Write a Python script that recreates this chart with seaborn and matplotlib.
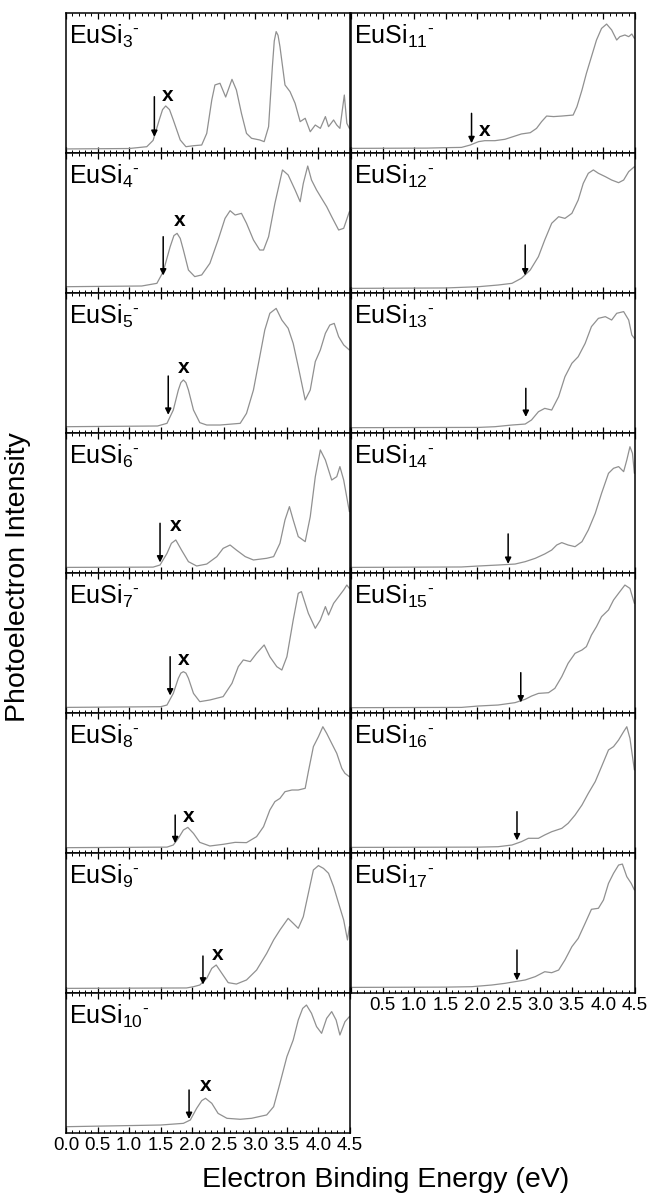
import matplotlib
matplotlib.use('Agg')
import matplotlib.pyplot as plt
import seaborn as sns
from matplotlib.ticker import MultipleLocator

sns.set_style('white')
plt.rcParams['font.family'] = ['Liberation Sans', 'DejaVu Sans']
plt.rcParams['mathtext.fontset'] = 'custom'
plt.rcParams['mathtext.rm'] = 'Liberation Sans'
plt.rcParams['mathtext.it'] = 'Liberation Sans:italic'
plt.rcParams['mathtext.bf'] = 'Liberation Sans:bold'
plt.rcParams['text.color'] = 'black'
plt.rcParams['xtick.color'] = 'black'
plt.rcParams['xtick.labelcolor'] = 'black'

# spectra: binding energy (eV) and relative intensity
eusi3_e = [0.0, 1.0, 1.28, 1.38, 1.48, 1.53, 1.58, 1.64, 1.70, 1.81, 1.90, 2.02, 2.15, 2.23, 2.31, 2.36, 2.44, 2.53,
           2.63, 2.70, 2.78, 2.86, 2.94, 3.07, 3.14, 3.21, 3.27, 3.30, 3.33, 3.36, 3.39, 3.47, 3.55, 3.63, 3.71,
           3.79, 3.87, 3.95, 4.03, 4.11, 4.16, 4.24, 4.29, 4.34, 4.41, 4.45, 4.49]
eusi3_i = [0.029, 0.032, 0.045, 0.09, 0.24, 0.31, 0.336, 0.31, 0.236, 0.093, 0.045, 0.052, 0.057, 0.14, 0.379, 0.486, 0.498, 0.40,
           0.526, 0.45, 0.283, 0.14, 0.105, 0.093, 0.081, 0.188, 0.617, 0.80, 0.867, 0.84, 0.76, 0.486, 0.438, 0.355, 0.224,
           0.248, 0.152, 0.2, 0.176, 0.26, 0.188, 0.236, 0.2, 0.176, 0.414, 0.212, 0.176]

eusi4_e = [0.0, 1.2, 1.44, 1.54, 1.65, 1.71, 1.76, 1.81, 1.86, 1.94, 2.04, 2.15, 2.28, 2.41, 2.52, 2.60, 2.68, 2.78,
           2.86, 2.97, 3.07, 3.13, 3.21, 3.31, 3.43, 3.52, 3.63, 3.71, 3.76, 3.83, 3.89, 3.97, 4.05,
           4.13, 4.21, 4.32, 4.40, 4.49]
eusi4_i = [0.045, 0.05, 0.069, 0.152, 0.33, 0.41, 0.426, 0.39, 0.307, 0.164, 0.117, 0.129, 0.212, 0.379, 0.533, 0.588, 0.557, 0.569,
           0.498, 0.379, 0.307, 0.307, 0.402, 0.64, 0.879, 0.843, 0.736, 0.652, 0.783, 0.907, 0.807, 0.736, 0.676,
           0.617, 0.545, 0.45, 0.462, 0.581]

eusi5_e = [0.0, 1.45, 1.60, 1.70, 1.78, 1.82, 1.86, 1.90, 1.94, 2.02, 2.12, 2.23, 2.44, 2.76, 2.86, 2.97, 3.07, 3.15,
           3.23, 3.33, 3.42, 3.52, 3.60, 3.68, 3.79, 3.87, 3.95, 4.03, 4.11, 4.18, 4.25, 4.32, 4.40, 4.49]
eusi5_i = [0.045, 0.05, 0.069, 0.164, 0.307, 0.36, 0.379, 0.36, 0.307, 0.164, 0.074, 0.057, 0.057, 0.069, 0.14, 0.307, 0.545, 0.736,
           0.855, 0.89, 0.807, 0.748, 0.64, 0.474, 0.236, 0.307, 0.51, 0.593, 0.712, 0.771, 0.783, 0.688, 0.629, 0.593]

eusi6_e = [0.0, 1.38, 1.49, 1.60, 1.67, 1.74, 1.83, 1.94, 2.07, 2.23, 2.39, 2.49, 2.60, 2.70, 2.84, 2.97,
           3.18, 3.29, 3.39, 3.47, 3.54, 3.60, 3.68, 3.79, 3.87, 3.95, 4.03, 4.11, 4.21, 4.29, 4.34, 4.40, 4.49]
eusi6_i = [0.04, 0.042, 0.057, 0.14, 0.212, 0.236, 0.164, 0.081, 0.05, 0.064, 0.117, 0.176, 0.2, 0.164, 0.117, 0.093,
           0.105, 0.117, 0.212, 0.379, 0.474, 0.379, 0.26, 0.224, 0.402, 0.688, 0.879, 0.807, 0.664, 0.688, 0.76, 0.664, 0.438]

eusi7_e = [0.0, 1.50, 1.60, 1.70, 1.78, 1.82, 1.86, 1.90, 1.94, 2.02, 2.12, 2.28, 2.49, 2.63, 2.73, 2.81, 2.92, 3.02,
           3.14, 3.23, 3.34, 3.42, 3.50, 3.60, 3.68, 3.73, 3.84, 3.95, 4.03, 4.11, 4.16, 4.24, 4.32, 4.40,
           4.45, 4.49]
eusi7_i = [0.04, 0.045, 0.057, 0.14, 0.248, 0.285, 0.295, 0.285, 0.248, 0.14, 0.081, 0.093, 0.117, 0.212, 0.331, 0.379, 0.367, 0.426,
           0.486, 0.402, 0.331, 0.307, 0.402, 0.664, 0.855, 0.867, 0.712, 0.605, 0.664, 0.76, 0.70, 0.783, 0.831, 0.879,
           0.914, 0.89]

eusi8_e = [0.0, 1.60, 1.70, 1.78, 1.86, 1.93, 2.02, 2.12, 2.28, 2.49, 2.68, 2.86, 3.02, 3.13, 3.23, 3.31,
           3.39, 3.47, 3.58, 3.68, 3.79, 3.84, 3.92, 4.00, 4.07, 4.13, 4.21, 4.29, 4.37, 4.42, 4.49]
eusi8_i = [0.038, 0.042, 0.057, 0.105, 0.164, 0.183, 0.14, 0.076, 0.05, 0.062, 0.076, 0.074, 0.117, 0.188, 0.307, 0.367,
           0.39, 0.438, 0.45, 0.45, 0.462, 0.581, 0.76, 0.831, 0.902, 0.855, 0.783, 0.712, 0.605, 0.569, 0.545]

eusi9_e = [0.0, 1.91, 2.02, 2.12, 2.23, 2.31, 2.38, 2.47, 2.57, 2.70, 2.86, 3.02, 3.18, 3.29, 3.39, 3.52,
           3.60, 3.68, 3.76, 3.84, 3.92, 4.00, 4.08, 4.16, 4.24, 4.32, 4.40, 4.46, 4.49]
eusi9_i = [0.033, 0.036, 0.045, 0.057, 0.105, 0.176, 0.2, 0.14, 0.074, 0.064, 0.093, 0.164, 0.283, 0.379, 0.45, 0.533,
           0.498, 0.462, 0.545, 0.712, 0.879, 0.91, 0.89, 0.855, 0.76, 0.64, 0.521, 0.379, 0.474]

eusi10_e = [0.0, 1.50, 1.86, 1.97, 2.07, 2.15, 2.21, 2.31, 2.41, 2.55, 2.76, 2.94, 3.18, 3.29, 3.39, 3.50,
            3.60, 3.68, 3.75, 3.81, 3.89, 3.97, 4.05, 4.13, 4.21, 4.28, 4.34, 4.42, 4.49]
eusi10_i = [0.045, 0.057, 0.069, 0.093, 0.176, 0.231, 0.248, 0.212, 0.14, 0.105, 0.098, 0.105, 0.129, 0.188, 0.355, 0.545,
            0.664, 0.807, 0.89, 0.914, 0.855, 0.76, 0.712, 0.819, 0.867, 0.807, 0.70, 0.795, 0.831]

eusi11_e = [0.0, 1.20, 1.49, 1.75, 1.89, 2.02, 2.12, 2.28, 2.44, 2.57, 2.70, 2.84, 2.94, 3.02, 3.10, 3.21,
            3.34, 3.52, 3.58, 3.66, 3.73, 3.81, 3.89, 3.97, 4.05, 4.13, 4.21, 4.26, 4.34, 4.40, 4.45, 4.49]
eusi11_i = [0.033, 0.035, 0.038, 0.04, 0.057, 0.081, 0.088, 0.088, 0.098, 0.117, 0.136, 0.145, 0.176, 0.224, 0.264, 0.26,
            0.264, 0.271, 0.331, 0.45, 0.569, 0.688, 0.807, 0.89, 0.921, 0.879, 0.807, 0.831, 0.843, 0.831, 0.85, 0.819]

eusi12_e = [0.0, 1.50, 2.02, 2.33, 2.55, 2.70, 2.84, 2.97, 3.07, 3.18, 3.29, 3.39, 3.50, 3.60, 3.68, 3.76,
            3.84, 3.92, 4.03, 4.13, 4.24, 4.32, 4.40, 4.49]
eusi12_i = [0.033, 0.036, 0.045, 0.057, 0.069, 0.105, 0.164, 0.26, 0.379, 0.498, 0.545, 0.533, 0.569, 0.664, 0.783, 0.855,
            0.879, 0.855, 0.831, 0.807, 0.788, 0.807, 0.867, 0.902]

eusi13_e = [0.0, 2.02, 2.28, 2.55, 2.76, 2.86, 2.97, 3.07, 3.18, 3.29, 3.39, 3.50, 3.60, 3.71, 3.81, 3.92,
            4.03, 4.13, 4.21, 4.32, 4.40, 4.45, 4.49]
eusi13_i = [0.038, 0.04, 0.045, 0.057, 0.064, 0.093, 0.152, 0.176, 0.164, 0.26, 0.402, 0.498, 0.545, 0.64, 0.76, 0.819,
            0.831, 0.807, 0.855, 0.867, 0.807, 0.70, 0.676]

eusi14_e = [0.0, 1.75, 2.02, 2.33, 2.60, 2.76, 2.92, 3.07, 3.18, 3.26, 3.34, 3.44, 3.55, 3.66, 3.76, 3.87,
            3.97, 4.08, 4.16, 4.24, 4.32, 4.37, 4.42, 4.46, 4.49]
eusi14_i = [0.04, 0.043, 0.05, 0.057, 0.064, 0.081, 0.105, 0.136, 0.164, 0.2, 0.217, 0.2, 0.188, 0.224, 0.307, 0.426,
            0.569, 0.712, 0.748, 0.76, 0.724, 0.807, 0.902, 0.855, 0.712]

eusi15_e = [0.0, 1.75, 2.02, 2.33, 2.60, 2.76, 2.86, 2.97, 3.13, 3.23, 3.34, 3.44, 3.55, 3.66, 3.73, 3.81,
            3.89, 3.97, 4.08, 4.16, 4.24, 4.34, 4.42, 4.49]
eusi15_i = [0.038, 0.04, 0.05, 0.057, 0.074, 0.098, 0.121, 0.14, 0.145, 0.176, 0.26, 0.355, 0.426, 0.45, 0.474, 0.557,
            0.617, 0.688, 0.736, 0.807, 0.855, 0.914, 0.89, 0.783]

eusi16_e = [0.0, 2.02, 2.33, 2.55, 2.70, 2.81, 2.97, 3.07, 3.18, 3.34, 3.44, 3.55, 3.66, 3.76, 3.87, 3.97,
            4.08, 4.16, 4.24, 4.32, 4.37, 4.42, 4.49]
eusi16_i = [0.04, 0.042, 0.045, 0.057, 0.081, 0.105, 0.105, 0.129, 0.152, 0.176, 0.212, 0.271, 0.343, 0.426, 0.51, 0.617,
            0.736, 0.76, 0.807, 0.867, 0.902, 0.819, 0.593]

eusi17_e = [0.0, 1.50, 1.91, 2.23, 2.44, 2.60, 2.76, 2.92, 3.07, 3.18, 3.29, 3.39, 3.50, 3.60, 3.71, 3.81,
            3.92, 4.00, 4.08, 4.16, 4.24, 4.30, 4.37, 4.44, 4.49]
eusi17_i = [0.04, 0.042, 0.045, 0.057, 0.069, 0.081, 0.093, 0.117, 0.152, 0.145, 0.164, 0.236, 0.331, 0.39, 0.498, 0.598,
            0.605, 0.664, 0.783, 0.855, 0.914, 0.921, 0.831, 0.783, 0.736]

sizes = [3, 4, 5, 6, 7, 8, 9, 10, 11, 12, 13, 14, 15, 16, 17]
energies = [eusi3_e, eusi4_e, eusi5_e, eusi6_e, eusi7_e, eusi8_e, eusi9_e, eusi10_e,
            eusi11_e, eusi12_e, eusi13_e, eusi14_e, eusi15_e, eusi16_e, eusi17_e]
intens = [eusi3_i, eusi4_i, eusi5_i, eusi6_i, eusi7_i, eusi8_i, eusi9_i, eusi10_i,
          eusi11_i, eusi12_i, eusi13_i, eusi14_i, eusi15_i, eusi16_i, eusi17_i]

# threshold arrows (energy, top of shaft, tip) and "x" marks (None = no mark)
arrow_e = [1.40, 1.54, 1.62, 1.49, 1.65, 1.73, 2.17, 1.95, 1.91, 2.76, 2.77, 2.49, 2.69, 2.63, 2.63]
arrow_top = [0.402, 0.402, 0.407, 0.355, 0.402, 0.271, 0.264, 0.307, 0.283, 0.343, 0.319, 0.279, 0.288, 0.295, 0.307]
arrow_tip = [0.115, 0.125, 0.13, 0.075, 0.125, 0.07, 0.06, 0.10, 0.07, 0.125, 0.115, 0.065, 0.075, 0.09, 0.09]
cross_e = [1.61, 1.80, 1.86, 1.73, 1.87, 1.95, 2.40, 2.21, 2.12, None, None, None, None, None, None]
cross_y = [0.414, 0.52, 0.467, 0.336, 0.383, 0.264, 0.276, 0.336, 0.16, None, None, None, None, None, None]

tick_e = [0.0, 0.5, 1.0, 1.5, 2.0, 2.5, 3.0, 3.5, 4.0, 4.5]
tick_left = ['0.0', '0.5', '1.0', '1.5', '2.0', '2.5', '3.0', '3.5', '4.0', '4.5']
tick_right = ['', '0.5', '1.0', '1.5', '2.0', '2.5', '3.0', '3.5', '4.0', '4.5']

W, H = 647, 1193
fig = plt.figure(figsize=(W / 100, H / 100), dpi=100)

for k, n in enumerate(sizes):
    col = 0 if n <= 10 else 1
    row = n - 3 if col == 0 else n - 11
    left = 66 if col == 0 else 351
    top = 13 + 140 * row
    ax = fig.add_axes([left / W, 1 - (top + 140) / H, 284 / W, 140 / H])

    sns.lineplot(x=energies[k], y=intens[k], ax=ax, color='#909090', linewidth=0.9,
                 sort=False, estimator=None, legend=False)

    ax.annotate('', xy=(arrow_e[k], arrow_tip[k]), xytext=(arrow_e[k], arrow_top[k]),
                arrowprops=dict(arrowstyle='-|>', color='black', lw=1.1, mutation_scale=9,
                                shrinkA=0, shrinkB=0))
    if cross_e[k] is not None:
        ax.text(cross_e[k], cross_y[k], 'x', fontsize=15, fontweight='bold',
                ha='center', va='center', color='black')

    ax.text(0.012, 0.78, r'EuSi$_{%d}$$^{\text{-}}$' % n, transform=ax.transAxes,
            fontsize=18, va='baseline', ha='left', color='black')

    ax.set_xlim(0, 4.5)
    ax.set_ylim(0, 1)
    ax.set_yticks([])
    ax.set_xlabel('')
    ax.set_ylabel('')
    ax.set_xticks(tick_e)
    ax.set_xticklabels(tick_left if col == 0 else tick_right)
    ax.xaxis.set_minor_locator(MultipleLocator(0.1))
    ax.tick_params(axis='x', which='both', direction='in', top=True, bottom=True,
                   color='black', pad=3, labelsize=13.5)
    ax.tick_params(axis='x', which='major', length=4, width=0.9)
    ax.tick_params(axis='x', which='minor', length=2, width=0.7)
    last = (col == 0 and n == 10) or (col == 1 and n == 17)
    if not last:
        ax.tick_params(axis='x', which='both', labelbottom=False)
    for sp in ax.spines.values():
        sp.set_color('black')
        sp.set_linewidth(1.1)

fig.text(18 / W, 1 - 577 / H, 'Photoelectron Intensity', rotation=90,
         fontsize=20.5, ha='center', va='center', color='black')
fig.text(386 / W, 1 - 1187 / H, 'Electron Binding Energy (eV)',
         fontsize=20.5, ha='center', va='baseline', color='black')

fig.savefig('out.png', dpi=100)
